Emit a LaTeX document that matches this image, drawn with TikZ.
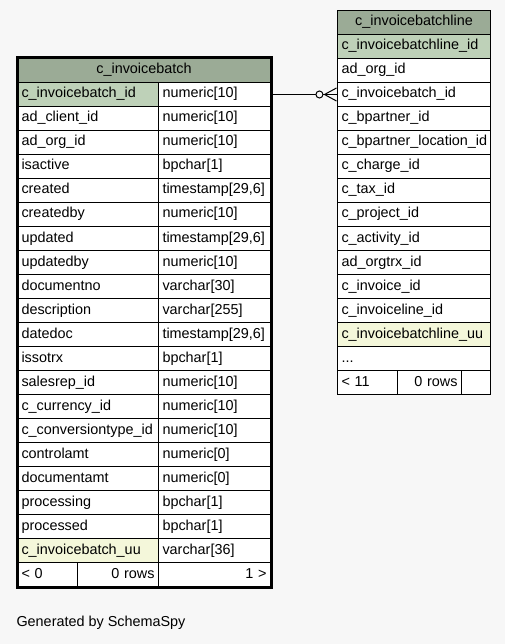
\documentclass[tikz,border=0pt]{standalone}
\usepackage{fontspec}
\setmainfont{Liberation Sans}
\usetikzlibrary{arrows.meta}
\definecolor{page}{HTML}{F7F7F7}
\definecolor{heading}{HTML}{9BAB96}
\definecolor{primary}{HTML}{BED1B8}
\definecolor{indexed}{HTML}{F4F7DA}
\tikzstyle{cell} = [
    draw,
    line width=1pt,
    rectangle,
    anchor=north west,
    fill=white,
    minimum height=24pt,
    inner xsep=4pt,
    inner ysep=0pt,
    text height=10pt,
    text depth=3pt,
    align=left,
    font=\fontsize{14.4}{16}\selectfont
]
\tikzstyle{colname} = [cell, text width=133pt]
\tikzstyle{coltype} = [cell, text width=104pt]
\tikzstyle{linename} = [cell, text width=145pt]
\tikzstyle{tablehead} = [cell, fill=heading, align=center]
\tikzstyle{pkey} = [fill=primary]
\tikzstyle{ukey} = [fill=indexed]
\tikzstyle{rel} = [line width=1pt]
\tikzstyle{many} = [-{Circle[fill=page, length=8pt] Straight Barb[reversed, length=12pt, width=13pt]}]

\begin{document}
\begin{tikzpicture}[x=1pt, y=-1pt]
    \useasboundingbox [fill=page] (0, 0) rectangle (505, 644);

    % Table c_invoicebatch.
    \node (batch head) [tablehead, text width=245pt] at (17, 58) {c\_invoicebatch};
    \node (batch id) [colname, pkey] at (17, 82) {c\_invoicebatch\_id};
    \node (batch id type) [coltype] at (158, 82) {numeric[10]};
    \node (batch client) [colname] at (17, 106) {ad\_client\_id};
    \node (batch client type) [coltype] at (158, 106) {numeric[10]};
    \node (batch org) [colname] at (17, 130) {ad\_org\_id};
    \node (batch org type) [coltype] at (158, 130) {numeric[10]};
    \node (batch active) [colname] at (17, 154) {isactive};
    \node (batch active type) [coltype] at (158, 154) {bpchar[1]};
    \node (batch created) [colname] at (17, 178) {created};
    \node (batch created type) [coltype] at (158, 178) {timestamp[29,6]};
    \node (batch createdby) [colname] at (17, 202) {createdby};
    \node (batch createdby type) [coltype] at (158, 202) {numeric[10]};
    \node (batch updated) [colname] at (17, 226) {updated};
    \node (batch updated type) [coltype] at (158, 226) {timestamp[29,6]};
    \node (batch updatedby) [colname] at (17, 250) {updatedby};
    \node (batch updatedby type) [coltype] at (158, 250) {numeric[10]};
    \node (batch docno) [colname] at (17, 274) {documentno};
    \node (batch docno type) [coltype] at (158, 274) {varchar[30]};
    \node (batch descr) [colname] at (17, 298) {description};
    \node (batch descr type) [coltype] at (158, 298) {varchar[255]};
    \node (batch datedoc) [colname] at (17, 322) {datedoc};
    \node (batch datedoc type) [coltype] at (158, 322) {timestamp[29,6]};
    \node (batch sotrx) [colname] at (17, 346) {issotrx};
    \node (batch sotrx type) [coltype] at (158, 346) {bpchar[1]};
    \node (batch salesrep) [colname] at (17, 370) {salesrep\_id};
    \node (batch salesrep type) [coltype] at (158, 370) {numeric[10]};
    \node (batch currency) [colname] at (17, 394) {c\_currency\_id};
    \node (batch currency type) [coltype] at (158, 394) {numeric[10]};
    \node (batch convtype) [colname] at (17, 418) {c\_conversiontype\_id};
    \node (batch convtype type) [coltype] at (158, 418) {numeric[10]};
    \node (batch controlamt) [colname] at (17, 442) {controlamt};
    \node (batch controlamt type) [coltype] at (158, 442) {numeric[0]};
    \node (batch docamt) [colname] at (17, 466) {documentamt};
    \node (batch docamt type) [coltype] at (158, 466) {numeric[0]};
    \node (batch processing) [colname] at (17, 490) {processing};
    \node (batch processing type) [coltype] at (158, 490) {bpchar[1]};
    \node (batch processed) [colname] at (17, 514) {processed};
    \node (batch processed type) [coltype] at (158, 514) {bpchar[1]};
    \node (batch uu) [colname, ukey] at (17, 538) {c\_invoicebatch\_uu};
    \node (batch uu type) [coltype] at (158, 538) {varchar[36]};
    \node (batch parents) [cell, text width=52pt] at (17, 562) {< 0};
    \node (batch rows) [cell, text width=73pt, align=right] at (77, 562) {0 rows};
    \node (batch children) [coltype, align=right] at (158, 562) {1 >};
    \draw [line width=3pt] (batch head.north west) rectangle (batch children.south east);

    % Table c_invoicebatchline.
    \node (line head) [tablehead, text width=145pt] at (337, 10) {c\_invoicebatchline};
    \node (line id) [linename, pkey] at (337, 34) {c\_invoicebatchline\_id};
    \node (line org) [linename] at (337, 58) {ad\_org\_id};
    \node (line batch) [linename] at (337, 82) {c\_invoicebatch\_id};
    \node (line bpartner) [linename] at (337, 106) {c\_bpartner\_id};
    \node (line location) [linename] at (337, 130) {c\_bpartner\_location\_id};
    \node (line charge) [linename] at (337, 154) {c\_charge\_id};
    \node (line tax) [linename] at (337, 178) {c\_tax\_id};
    \node (line project) [linename] at (337, 202) {c\_project\_id};
    \node (line activity) [linename] at (337, 226) {c\_activity\_id};
    \node (line orgtrx) [linename] at (337, 250) {ad\_orgtrx\_id};
    \node (line invoice) [linename] at (337, 274) {c\_invoice\_id};
    \node (line invoiceline) [linename] at (337, 298) {c\_invoiceline\_id};
    \node (line uu) [linename, ukey] at (337, 322) {c\_invoicebatchline\_uu};
    \node (line more) [linename] at (337, 346) {...};
    \node (line parents) [cell, text width=52pt] at (337, 370) {< 11};
    \node (line rows) [cell, text width=56pt, align=right] at (397, 370) {0 rows};
    \node (line children) [cell, text width=21pt] at (461, 370) {};

    % Relation.
    \draw [rel] (batch id type.east) -- (line batch.west);
    \draw [rel, many] (batch id type.east) -- (line batch.west);

    \node (credit) [anchor=west, font=\fontsize{14.4}{16}\selectfont] at (13, 623) {Generated by SchemaSpy};
\end{tikzpicture}
\end{document}
